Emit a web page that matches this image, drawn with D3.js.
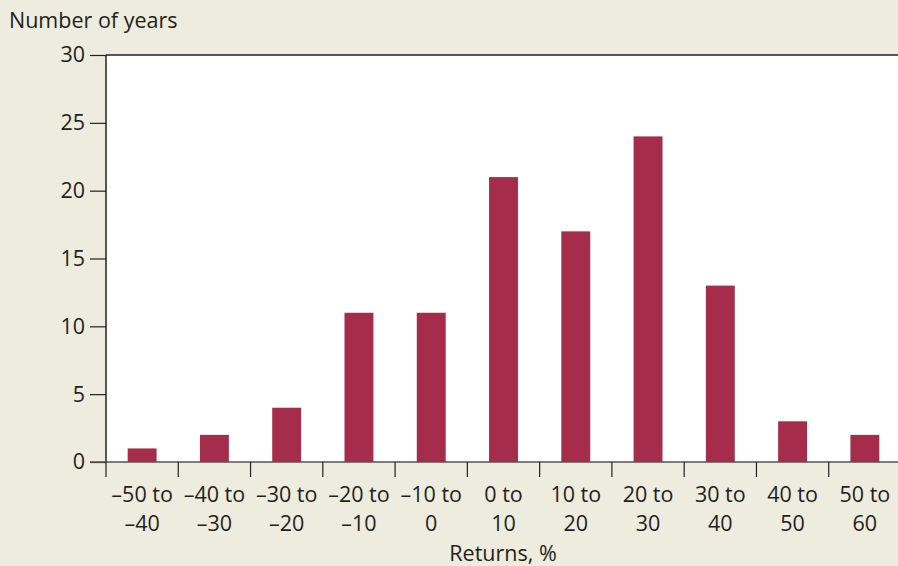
<!DOCTYPE html>
<html><head><meta charset="utf-8">
<script src="https://cdn.jsdelivr.net/npm/d3@7"></script>
<style>body{margin:0;background:#eeebdf;} svg{display:block;} text{font-family:"Open Sans",sans-serif;fill:#231f20;}</style>
</head><body><svg id="c" width="898" height="566"></svg>
<script>
const categories = [["–50 to","–40"],["–40 to","–30"],["–30 to","–20"],["–20 to","–10"],["–10 to","0"],["0 to","10"],["10 to","20"],["20 to","30"],["30 to","40"],["40 to","50"],["50 to","60"]];
const values = [1,2,4,11,11,21,17,24,13,3,2];
const yTicks = [0,5,10,15,20,25,30];

(function(){
const FS = 21.5;
const svg = d3.select("#c");
const mL = 106, mR = 901, mT = 55, mB = 462;
const x = d3.scaleBand().domain(d3.range(categories.length)).range([mL, mR]).paddingInner(0.6).paddingOuter(0.3);
const y = d3.scaleLinear().domain([0,30]).range([mB, mT]);

svg.append("rect").attr("x", mL).attr("y", mT).attr("width", 898-mL).attr("height", mB-mT).attr("fill", "#fff");
svg.append("line").attr("x1", mL).attr("x2", 898).attr("y1", mT).attr("y2", mT).attr("stroke", "#231f20").attr("stroke-width", 1.5);

svg.selectAll("rect.bar").data(values).join("rect").attr("class","bar")
  .attr("x", (d,i)=>x(i)).attr("width", x.bandwidth())
  .attr("y", d=>y(d)).attr("height", d=>mB-y(d)).attr("fill", "#a52d4b");

const ya = svg.append("g").attr("transform", `translate(${mL},0)`)
  .call(d3.axisLeft(y).tickValues(yTicks).tickSize(16).tickPadding(5));
ya.select(".domain").attr("stroke","#231f20").attr("stroke-width",1.5).attr("d", `M0,${mB}V${mT}`);
ya.selectAll(".tick line").attr("stroke","#231f20").attr("stroke-width",1.2);
ya.selectAll(".tick text").attr("font-size", FS).attr("font-family","'Open Sans',sans-serif").attr("fill","#231f20");

svg.append("line").attr("x1", mL-16).attr("x2", 898).attr("y1", mB).attr("y2", mB).attr("stroke", "#555").attr("stroke-width", 1.5);
const step = x.step();
const bounds = d3.range(categories.length).map(i => x(i) - (step - x.bandwidth())/2);
svg.selectAll("line.bt").data(bounds).join("line").attr("class","bt")
  .attr("x1", d=>d).attr("x2", d=>d).attr("y1", mB).attr("y2", mB+15)
  .attr("stroke", "#231f20").attr("stroke-width", 1.2);

const lbl = svg.selectAll("text.xl").data(categories).join("text").attr("class","xl")
  .attr("text-anchor","middle").attr("font-size", FS)
  .attr("transform", (d,i)=>`translate(${x(i)+x.bandwidth()/2},0)`);
lbl.append("tspan").attr("x",0).attr("y",502).text(d=>d[0]);
lbl.append("tspan").attr("x",0).attr("y",531).text(d=>d[1]);

svg.append("text").attr("x", 9).attr("y", 28).attr("font-size", FS).text("Number of years");
svg.append("text").attr("x", 503).attr("y", 561).attr("text-anchor","middle").attr("font-size", FS).text("Returns, %");
})();
</script></body></html>
